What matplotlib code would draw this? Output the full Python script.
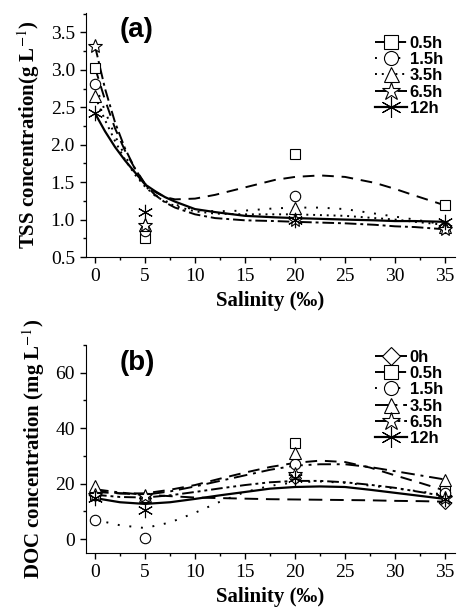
import numpy as np
import matplotlib.pyplot as plt
from matplotlib.ticker import MultipleLocator

plt.rcParams['font.family'] = 'Liberation Serif'
plt.rcParams['mathtext.fontset'] = 'stix'

# --- measured points ---
salinity = [0, 5, 20, 35]

tss_labels = ['0.5h', '1.5h', '3.5h', '6.5h', '12h']
tss_05 = [3.03, 0.75, 1.88, 1.19]
tss_15 = [2.81, 0.85, 1.31, 0.90]
tss_35 = [2.65, 0.93, 1.15, 0.90]
tss_65 = [3.32, 0.93, 0.99, 0.87]
tss_12 = [2.42, 1.10, 1.00, 0.97]

doc_labels = ['0h', '0.5h', '1.5h', '3.5h', '6.5h', '12h']
doc_0 = [16.0, 15.0, 22.0, 13.0]
doc_05 = [16.0, 15.0, 34.5, 17.5]
doc_15 = [7.0, 0.5, 27.0, 16.5]
doc_35 = [19.0, 15.5, 31.0, 21.5]
doc_65 = [16.0, 15.5, 23.5, 15.0]
doc_12 = [15.0, 10.5, 22.0, 14.5]

# --- fitted curves ---
fit_x_a = [0, 1, 2, 3, 4, 5, 6, 7, 8, 10, 12, 15, 18, 20, 22.5, 25, 28, 30, 32, 35]
fit_a_05 = [3.03, 2.60, 2.22, 1.92, 1.68, 1.48, 1.37, 1.30, 1.27, 1.28, 1.33, 1.43, 1.53, 1.57, 1.59, 1.57, 1.49, 1.41, 1.32, 1.19]
fit_a_15 = [2.81, 2.45, 2.12, 1.85, 1.62, 1.45, 1.33, 1.25, 1.20, 1.13, 1.11, 1.12, 1.15, 1.16, 1.16, 1.14, 1.08, 1.04, 1.00, 0.93]
fit_a_35 = [2.65, 2.33, 2.05, 1.80, 1.60, 1.44, 1.32, 1.24, 1.18, 1.11, 1.08, 1.07, 1.07, 1.07, 1.06, 1.05, 1.02, 1.00, 0.97, 0.93]
fit_a_65 = [3.32, 2.75, 2.30, 1.95, 1.68, 1.47, 1.33, 1.23, 1.16, 1.07, 1.02, 0.99, 0.98, 0.97, 0.96, 0.95, 0.93, 0.91, 0.90, 0.87]
fit_a_12 = [2.42, 2.18, 1.97, 1.79, 1.63, 1.47, 1.38, 1.30, 1.24, 1.14, 1.10, 1.05, 1.03, 1.02, 1.01, 1.00, 0.99, 0.98, 0.98, 0.97]

fit_x_b = [0, 2.5, 5, 7.5, 10, 12.5, 15, 17.5, 20, 22.5, 25, 27.5, 30, 32.5, 35]
fit_b_0 = [17.0, 16.5, 16.0, 15.5, 15.0, 14.8, 14.6, 14.4, 14.3, 14.2, 14.1, 14.0, 13.8, 13.7, 13.5]
fit_b_05 = [17.5, 16.5, 16.5, 17.8, 19.5, 21.8, 24.0, 26.0, 27.5, 28.3, 27.8, 25.8, 23.0, 20.3, 17.5]
fit_b_15 = [7.0, 5.0, 4.0, 6.0, 9.5, 13.5, 17.0, 19.2, 20.5, 20.8, 20.3, 19.3, 18.3, 17.2, 16.0]
fit_b_35 = [18.0, 16.8, 16.0, 17.2, 19.0, 21.0, 23.0, 25.0, 26.5, 27.0, 27.0, 26.0, 24.5, 23.0, 21.5]
fit_b_65 = [16.0, 15.2, 15.0, 15.8, 17.0, 18.3, 19.5, 20.5, 21.0, 21.0, 20.5, 19.6, 18.5, 17.0, 15.5]
fit_b_12 = [14.8, 13.3, 12.7, 13.3, 14.5, 15.8, 17.0, 18.2, 18.8, 19.0, 18.8, 17.8, 16.7, 15.6, 14.5]

styles = {
    '0h': dict(marker='D', ls=(0, (7, 4)), ms=6.5),
    '0.5h': dict(marker='s', ls=(0, (6, 4)), ms=7),
    '1.5h': dict(marker='o', ls=(0, (1, 5)), ms=7.5),
    '3.5h': dict(marker='^', ls=(0, (1, 2.5)), ms=8),
    '6.5h': dict(marker='*', ls=(0, (6, 2, 1.5, 2)), ms=10),
    '12h': dict(marker=(6, 2, 0), ls='-', ms=11),
}
styles_b = dict(styles)
styles_b['3.5h'] = dict(marker='^', ls=(0, (7, 3, 1.5, 3)), ms=8)
styles_b['6.5h'] = dict(marker='*', ls=(0, (6, 2, 1.5, 2, 1.5, 2)), ms=10)


def draw_panel(ax, labels, points, fit_x, fits, st, leg_y):
    for lab, pts, fit in zip(labels, points, fits):
        s = st[lab]
        lw = 1.6 if s['ls'] == '-' else 1.4
        ax.plot(fit_x, fit, color='black', ls=s['ls'], lw=lw, zorder=2)
        ax.plot(salinity, pts, ls='none', marker=s['marker'], ms=s['ms'],
                mfc='white', mec='black', mew=0.8, zorder=3)
        # legend proxy
        ax.plot([], [], color='black', ls=s['ls'], lw=lw, marker=s['marker'],
                ms=s['ms'] * 1.35, mfc='white', mec='black', mew=0.8, label=lab)
    ax.set_xlim(-0.9, 36)
    ax.xaxis.set_major_locator(MultipleLocator(5))
    ax.xaxis.set_minor_locator(MultipleLocator(2.5))
    for side in ['top', 'right']:
        ax.spines[side].set_visible(False)
    ax.tick_params(which='major', direction='out', length=4, width=1, labelsize=14, pad=4)
    ax.tick_params(which='minor', direction='out', length=2.5, width=1)
    ax.set_xlabel('Salinity (‰)', fontsize=15, fontweight='bold', labelpad=4)
    leg = ax.legend(loc='upper right', bbox_to_anchor=(0.985, leg_y), frameon=False,
                    handlelength=1.9, handletextpad=0.15, labelspacing=0.08,
                    borderaxespad=0.0, prop={'family': 'Liberation Sans', 'weight': 'bold', 'size': 12})
    return leg


fig = plt.figure(figsize=(4.57, 6.08), dpi=100)

ax1 = fig.add_axes([86 / 457, 1 - 257 / 608, 369 / 457, 244 / 608])
draw_panel(ax1, tss_labels, [tss_05, tss_15, tss_35, tss_65, tss_12],
           fit_x_a, [fit_a_05, fit_a_15, fit_a_35, fit_a_65, fit_a_12], styles, 0.935)
ax1.set_ylim(0.5, 3.76)
ax1.yaxis.set_major_locator(MultipleLocator(0.5))
ax1.yaxis.set_minor_locator(MultipleLocator(0.25))
ax1.yaxis.set_major_formatter(lambda v, p: f'{v:.1f}')
ax1.set_ylabel(r'TSS concentration(g L$^{-1}$)', fontsize=15, fontweight='bold', labelpad=6)
ax1.text(0.092, 0.985, '(a)', transform=ax1.transAxes, family='Liberation Sans',
         fontweight='bold', fontsize=20, va='top', ha='left')

ax2 = fig.add_axes([86 / 457, 1 - 553 / 608, 369 / 457, 208 / 608])
draw_panel(ax2, doc_labels, [doc_0, doc_05, doc_15, doc_35, doc_65, doc_12],
           fit_x_b, [fit_b_0, fit_b_05, fit_b_15, fit_b_35, fit_b_65, fit_b_12], styles_b, 1.01)
ax2.set_ylim(-5, 70)
ax2.yaxis.set_major_locator(MultipleLocator(20))
ax2.yaxis.set_minor_locator(MultipleLocator(10))
ax2.set_ylabel(r'DOC concentration (mg L$^{-1}$)', fontsize=15, fontweight='bold', labelpad=6)
ax2.text(0.092, 0.975, '(b)', transform=ax2.transAxes, family='Liberation Sans',
         fontweight='bold', fontsize=20, va='top', ha='left')

fig.savefig('out.png', dpi=100)
